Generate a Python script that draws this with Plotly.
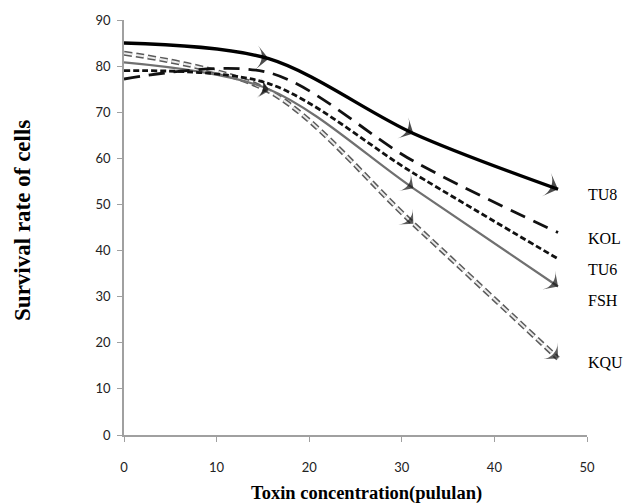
import plotly.graph_objects as go

# Data
x_conc = [0, 15.625, 31.25, 46.875]
tu8 = [85.0, 81.6, 65.4, 53.3]
kol = [77.2, 78.6, 59.4, 43.9]
tu6 = [79.0, 76.2, 56.8, 38.2]
fsh = [80.8, 75.0, 53.5, 32.2]
kqu = [82.8, 74.6, 45.8, 16.6]

x_ticks = [0, 10, 20, 30, 40, 50]
y_ticks = [0, 10, 20, 30, 40, 50, 60, 70, 80, 90]

series_names = ["TU8", "KOL", "TU6", "FSH", "KQU"]
label_y = [52.2, 42.7, 36.0, 29.1, 15.8]

fig = go.Figure()

def add_line(y, color, width, dash):
    fig.add_trace(go.Scatter(
        x=x_conc, y=y, mode="lines",
        line=dict(color=color, width=width, dash=dash, shape="spline", smoothing=0.9),
        hoverinfo="skip", showlegend=False))

def add_arrows(y, sizes, color):
    fig.add_trace(go.Scatter(
        x=x_conc, y=y, mode="markers",
        marker=dict(symbol="arrow-wide", angleref="previous", size=sizes,
                    color=color, line=dict(width=0)),
        hoverinfo="skip", showlegend=False))

# KQU: outlined dashed line
add_line(kqu, "#5a5a5a", 5, "8px,4px")
add_line(kqu, "#ececec", 2, "8px,4px")
add_arrows(kqu, [0, 14, 15, 16], "#1a1a1a")

# FSH: gray solid thin
add_line(fsh, "#707070", 2.2, "solid")
add_arrows(fsh, [0, 14, 15, 16], "#111111")
# TU6: short dash
add_line(tu6, "#111111", 2.8, "6px,3px")
# KOL: long dash
add_line(kol, "#111111", 2.8, "16px,9px")
# TU8: thick solid
add_line(tu8, "#000000", 3.4, "solid")
add_arrows(tu8, [0, 17, 17, 18], "#000000")

for name, ly in zip(series_names, label_y):
    fig.add_annotation(x=49.9, y=ly, xref="x", yref="y", text=name,
                       showarrow=False, xanchor="left", yanchor="middle",
                       font=dict(family="Liberation Serif", size=16, color="#000"))

fig.update_layout(
    width=637, height=504,
    margin=dict(l=124, r=50, t=18, b=69),
    paper_bgcolor="white", plot_bgcolor="white",
    xaxis=dict(range=[0, 50], tickvals=x_ticks, showgrid=False, zeroline=False,
               showline=True, linecolor="#a0a0a0", linewidth=1.5,
               ticks="outside", ticklen=5, tickcolor="#a0a0a0",
               ticklabelstandoff=15,
               tickfont=dict(family="Lato", size=13, color="#222")),
    yaxis=dict(range=[0, 90], tickvals=y_ticks, showgrid=False, zeroline=False,
               showline=True, linecolor="#a0a0a0", linewidth=1.5,
               ticks="outside", ticklen=5, tickcolor="#a0a0a0",
               ticklabelstandoff=4,
               tickfont=dict(family="Lato", size=13, color="#222")),
)

fig.add_annotation(x=0.523, y=-0.142, xref="paper", yref="paper",
                   text="<b>Toxin concentration(pululan)</b>", showarrow=False,
                   xanchor="center", yanchor="middle",
                   font=dict(family="Liberation Serif", size=18.5, color="#000"))
fig.add_annotation(x=-0.218, y=0.516, xref="paper", yref="paper",
                   text="<b>Survival rate of cells</b>", showarrow=False, textangle=-90,
                   xanchor="center", yanchor="middle",
                   font=dict(family="Liberation Serif", size=23, color="#000"))

fig.write_html("out.html", config={"displayModeBar": False},
               post_script="document.body.style.margin='0px';document.body.style.overflow='hidden';")
